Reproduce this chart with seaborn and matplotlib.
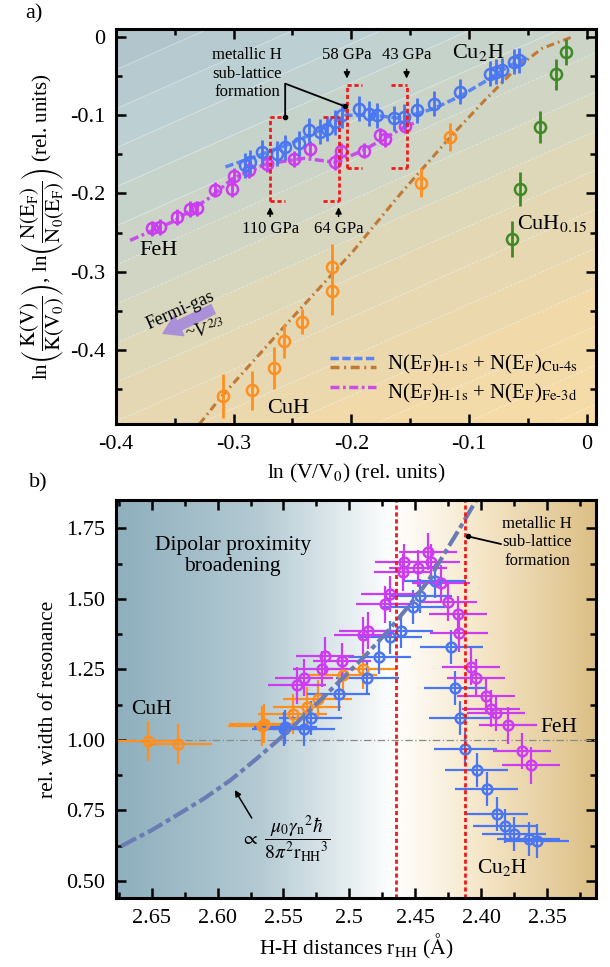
import numpy as np
import matplotlib
matplotlib.use('Agg')
import matplotlib.pyplot as plt
import seaborn as sns
from matplotlib.colors import LinearSegmentedColormap
from matplotlib.legend_handler import HandlerBase
from matplotlib.lines import Line2D
from matplotlib.ticker import MultipleLocator, FixedLocator, FuncFormatter

# ---------------- panel a) data : ln K vs ln V ----------------
feh_x = [-0.3696, -0.3626, -0.3484, -0.337, -0.3313, -0.3157, -0.3015, -0.300, -0.287,
         -0.2717, -0.249, -0.2349, -0.2136, -0.209, -0.1895, -0.1753, -0.171, -0.154]
feh_y = [-0.2446, -0.243, -0.230, -0.2197, -0.219, -0.195, -0.194, -0.178, -0.170,
         -0.162, -0.1556, -0.1427, -0.160, -0.146, -0.145, -0.1256, -0.130, -0.113]
feh_err = 0.010

cu2h_x = [-0.2902, -0.286, -0.276, -0.2632, -0.2562, -0.2448, -0.2363, -0.2264, -0.2207,
          -0.2136, -0.208, -0.1938, -0.1853, -0.178, -0.164, -0.1555, -0.144, -0.130,
          -0.1072, -0.0817, -0.0774, -0.0717, -0.0618, -0.0576]
cu2h_y = [-0.164, -0.160, -0.147, -0.149, -0.1406, -0.136, -0.119, -0.121, -0.117,
          -0.1086, -0.100, -0.0914, -0.098, -0.100, -0.104, -0.102, -0.0936, -0.085,
          -0.070, -0.0466, -0.0444, -0.0423, -0.0316, -0.0295]
cu2h_err = 0.016

cuh_x = [-0.309, -0.284, -0.266, -0.257, -0.242, -0.216, -0.216, -0.1407, -0.1163]
cuh_y = [-0.459, -0.452, -0.4235, -0.389, -0.364, -0.325, -0.2945, -0.186, -0.128]
cuh_err = [0.028, 0.025, 0.027, 0.022, 0.016, 0.030, 0.030, 0.018, 0.018]

cuh015_x = [-0.0638, -0.0562, -0.0398, -0.0258, -0.0173]
cuh015_y = [-0.258, -0.194, -0.115, -0.0474, -0.0188]
cuh015_err = [0.023, 0.022, 0.020, 0.020, 0.017]

# DOS based curves
fit_cu2h_x = [-0.307, -0.28, -0.25, -0.225, -0.205, -0.18, -0.158, -0.13, -0.107, -0.0845, -0.065, -0.05]
fit_cu2h_y = [-0.166, -0.152, -0.135, -0.118, -0.100, -0.100, -0.104, -0.0915, -0.075, -0.055, -0.036, -0.026]

fit_cuh_x = [-0.329, -0.311, -0.255, -0.198, -0.158, -0.116, -0.088, -0.060, -0.038, -0.013]
fit_cuh_y = [-0.495, -0.461, -0.367, -0.273, -0.200, -0.128, -0.083, -0.040, -0.0145, 0.0]

fit_feh_x = [-0.388, -0.35, -0.32, -0.30, -0.272, -0.24, -0.2136, -0.19, -0.155, -0.147]
fit_feh_y = [-0.260, -0.235, -0.205, -0.180, -0.162, -0.155, -0.160, -0.145, -0.115, -0.110]

# pressure windows (x0, x1, y0, y1)
box_a = [-0.269, -0.2108, -0.209, -0.102]
box_b = [-0.2037, -0.153, -0.168, -0.0615]
press_low = ['110 GPa', '64 GPa']
press_high = ['58 GPa', '43 GPa']

# ---------------- panel b) data : line width vs r_HH ----------------
b_cuh_x = [2.6525, 2.630, 2.566, 2.565, 2.543, 2.532, 2.524, 2.505, 2.490]
b_cuh_y = [0.997, 0.985, 1.050, 1.058, 1.091, 1.118, 1.144, 1.230, 1.250]

b_cu2h_x = [2.5496, 2.5485, 2.5346, 2.5295, 2.5082, 2.4864, 2.4773, 2.4693, 2.4605, 2.4517,
            2.4461, 2.4354, 2.4228, 2.4196, 2.4158, 2.412, 2.4035, 2.396, 2.3883, 2.382,
            2.3752, 2.364, 2.3576]
b_cu2h_y = [1.038, 1.045, 1.038, 1.079, 1.164, 1.221, 1.294, 1.363, 1.387, 1.470,
            1.511, 1.564, 1.330, 1.184, 1.077, 0.967, 0.894, 0.825, 0.737, 0.695,
            0.666, 0.648, 0.642]

b_feh_x = [2.5395, 2.5346, 2.5206, 2.5182, 2.5057, 2.4894, 2.4856, 2.473, 2.4693, 2.4597,
           2.4587, 2.448, 2.4404, 2.4379, 2.4304, 2.4254, 2.418, 2.4167, 2.4077, 2.404,
           2.3964, 2.3926, 2.3889, 2.380, 2.369, 2.362]
b_feh_y = [1.194, 1.221, 1.251, 1.298, 1.280, 1.371, 1.387, 1.481, 1.517, 1.594,
           1.629, 1.608, 1.667, 1.629, 1.555, 1.487, 1.446, 1.378, 1.260, 1.221,
           1.156, 1.111, 1.095, 1.052, 0.961, 0.910]

# dipolar broadening ~ r^-3
dip_x = [2.673, 2.65, 2.63, 2.61, 2.59, 2.57, 2.549, 2.52, 2.488, 2.47, 2.454, 2.44, 2.429, 2.415, 2.404]
dip_y = [0.624, 0.680, 0.736, 0.793, 0.858, 0.935, 1.020, 1.150, 1.298, 1.390, 1.480, 1.565, 1.652, 1.760, 1.848]

transition_r = [2.465, 2.412]

# colours
c_blue = '#4a76f2'
c_mag = '#cc3cf0'
c_orange = '#ff8f1f'
c_green = '#3f8a26'
c_brown = '#c07a35'
c_red = '#f01a1a'

sns.set_theme(style='ticks')
plt.rcParams['font.family'] = ['Liberation Serif', 'DejaVu Serif']
plt.rcParams['mathtext.fontset'] = 'stix'
plt.rcParams['axes.unicode_minus'] = False
plt.rcParams['text.color'] = 'black'
plt.rcParams['axes.labelcolor'] = 'black'
plt.rcParams['xtick.color'] = 'black'
plt.rcParams['ytick.color'] = 'black'

fig = plt.figure(figsize=(6.1, 9.67), dpi=100)
ax1 = fig.add_axes([116 / 610, 1 - 424 / 967, 480 / 610, 395 / 967])
ax2 = fig.add_axes([116 / 610, 1 - 898 / 967, 480 / 610, 398 / 967])

# ---------- panel a ----------
xa0, xa1 = -0.4, 0.008
ya0, ya1 = -0.495, 0.0105
gx, gy = np.meshgrid(np.linspace(xa0, xa1, 300), np.linspace(ya0, ya1, 300))
gz = gy - 2 / 3 * gx
band_cmap = LinearSegmentedColormap.from_list(
    'bands', ['#f8dca5', '#f1d9aa', '#e2d7b5', '#cdd5c6', '#bccfd3', '#aabdc8'])
lev = np.arange(-0.525, 0.33, 0.05)
ax1.contourf(gx, gy, gz, levels=lev, cmap=band_cmap, zorder=0)
ax1.contour(gx, gy, gz, levels=lev, colors='white', linewidths=0.6, alpha=0.45, zorder=0)

sns.lineplot(x=fit_cuh_x, y=fit_cuh_y, sort=False, estimator=None, ax=ax1, color=c_brown,
             lw=2.2, linestyle=(0, (2.6, 1.3, 0.6, 1.3)), legend=False, zorder=2)
sns.lineplot(x=fit_cu2h_x, y=fit_cu2h_y, sort=False, estimator=None, ax=ax1, color='#5b86f2',
             lw=2.5, linestyle=(0, (2.4, 1.0)), legend=False, zorder=2)
sns.lineplot(x=fit_feh_x, y=fit_feh_y, sort=False, estimator=None, ax=ax1, color='#c64fe8',
             lw=2.5, linestyle=(0, (2.6, 1.0, 0.8, 1.0)), legend=False, zorder=2)

ax1.errorbar(cuh_x, cuh_y, yerr=cuh_err, fmt='o', ms=8, mfc='none', mec=c_orange, mew=1.8,
             ecolor=c_orange, elinewidth=2, capsize=0, zorder=3)
ax1.errorbar(cuh015_x, cuh015_y, yerr=cuh015_err, fmt='o', ms=8, mfc='none', mec=c_green, mew=1.8,
             ecolor=c_green, elinewidth=2, capsize=0, zorder=3)
ax1.errorbar(feh_x, feh_y, yerr=feh_err, fmt='o', ms=8, mfc='none', mec=c_mag, mew=1.8,
             ecolor=c_mag, elinewidth=2, capsize=0, zorder=3)
ax1.errorbar(cu2h_x, cu2h_y, yerr=cu2h_err, fmt='o', ms=8, mfc='none', mec=c_blue, mew=1.8,
             ecolor=c_blue, elinewidth=2, capsize=0, zorder=4)

# red dashed pressure windows: full vertical sides, short stubs on top/bottom
for bx in [box_a, box_b]:
    x0, x1, y0, y1 = bx
    stub = 0.013
    for xs in [x0, x1]:
        ax1.plot([xs, xs], [y0, y1], color=c_red, lw=2, ls=(0, (1.5, 1)), zorder=5)
    for yy in [y0, y1]:
        ax1.plot([x0, x0 + stub], [yy, yy], color=c_red, lw=2, ls=(0, (1.5, 1)), zorder=5)
        ax1.plot([x1 - stub, x1], [yy, yy], color=c_red, lw=2, ls=(0, (1.5, 1)), zorder=5)

arr = dict(arrowstyle='-|>', color='black', lw=1.1, mutation_scale=9)
for lab, xs in zip(press_low, [box_a[0], box_a[1]]):
    ax1.annotate('', xy=(xs, box_a[2] - 0.005), xytext=(xs, box_a[2] - 0.024), arrowprops=arr)
    ax1.text(xs, -0.245, lab, ha='center', va='center', fontsize=12)
for lab, xs in zip(press_high, [box_b[0], box_b[1]]):
    ax1.annotate('', xy=(xs, box_b[3] + 0.005), xytext=(xs, box_b[3] + 0.024), arrowprops=arr)
    ax1.text(xs, -0.023, lab, ha='center', va='center', fontsize=12)

ax1.text(-0.2888, -0.0466, 'metallic H\nsub-lattice\nformation', ha='center', va='center',
         fontsize=12, linespacing=1.2)
ax1.plot([-0.2562, -0.2562, -0.2055], [-0.102, -0.0594, -0.0885], color='black', lw=1.3, zorder=6)
ax1.plot([-0.2562, -0.2055], [-0.102, -0.0885], 'o', color='black', ms=3, zorder=6)

ax1.text(-0.364, -0.273, 'FeH', ha='center', va='center', fontsize=16)
ax1.text(-0.0917, -0.019, 'Cu$_2$H', ha='center', va='center', fontsize=16)
ax1.text(-0.0294, -0.239, 'CuH$_{0.15}$', ha='center', va='center', fontsize=16)
ax1.text(-0.254, -0.475, 'CuH', ha='center', va='center', fontsize=16)

ax1.annotate('', xy=(-0.360, -0.379), xytext=(-0.3175, -0.348),
             arrowprops=dict(arrowstyle='simple,head_length=0.8,head_width=1.0,tail_width=0.45',
                             color='#a990d8', mutation_scale=16, shrinkA=0, shrinkB=0))
ax1.text(-0.345, -0.349, 'Fermi-gas', rotation=24, ha='center', va='center', fontsize=13)
ax1.text(-0.325, -0.374, '~V$^{2/3}$', rotation=8, ha='center', va='center', fontsize=13)


class StackedLines(HandlerBase):
    def create_artists(self, legend, orig_handle, xdescent, ydescent, width, height, fontsize, trans):
        out = []
        for i, h in enumerate(orig_handle):
            yy = height * (0.8 - 0.6 * i) - ydescent
            ln = Line2D([0, 1], [0, 1])
            ln.update_from(h)
            ln.set_data([-xdescent, width - xdescent], [yy, yy])
            ln.set_transform(trans)
            out.append(ln)
        return out


h_blue = Line2D([], [], color='#5b86f2', lw=2.5, ls=(0, (2.4, 1.0)))
h_brown = Line2D([], [], color=c_brown, lw=2.5, ls=(0, (2.6, 1.3, 0.6, 1.3)))
h_mag = Line2D([], [], color='#c64fe8', lw=2.5, ls=(0, (2.6, 1.0, 0.8, 1.0)))
lab1 = 'N(E$_{\\mathrm{F}}$)$_{\\mathrm{H\u20101s}}$ + N(E$_{\\mathrm{F}}$)$_{\\mathrm{Cu\u20104s}}$'
lab2 = 'N(E$_{\\mathrm{F}}$)$_{\\mathrm{H\u20101s}}$ + N(E$_{\\mathrm{F}}$)$_{\\mathrm{Fe\u20103d}}$'
ax1.legend([(h_blue, h_brown), (h_mag,)], [lab1, lab2], handler_map={tuple: StackedLines()},
           loc='lower right', bbox_to_anchor=(1.0, 0.0), frameon=False, fontsize=15,
           handlelength=2.2, handletextpad=0.5, labelspacing=0.3, borderaxespad=0.5)

ax1.set_xlim(xa0, xa1)
ax1.set_ylim(ya0, ya1)
ax1.xaxis.set_major_locator(MultipleLocator(0.1))
ax1.xaxis.set_minor_locator(MultipleLocator(0.05))
ax1.yaxis.set_major_locator(MultipleLocator(0.1))
ax1.yaxis.set_minor_locator(MultipleLocator(0.05))
fmt = FuncFormatter(lambda v, p: '0' if abs(v) < 1e-9 else f'{v:.1f}')
ax1.xaxis.set_major_formatter(fmt)
ax1.yaxis.set_major_formatter(fmt)
ax1.set_xlabel('ln (V/V$_0$) (rel. units)', fontsize=15.5, labelpad=6)
ax1.set_ylabel(r'ln$\left(\dfrac{\mathrm{K(V)}}{\mathrm{K(V_0)}}\right)$, ln$\left(\dfrac{\mathrm{N(E_F)}}{\mathrm{N_0(E_F)}}\right)$ (rel. units)',
               fontsize=15, labelpad=2)

# ---------- panel b ----------
xb0, xb1 = 2.677, 2.313
yb0, yb1 = 0.44, 1.85
grad_cmap = LinearSegmentedColormap.from_list(
    'grad', [(0.0, '#8eafbd'), (0.3, '#b4cad3'), (0.58, '#ffffff'), (0.75, '#f6e8cb'), (1.0, '#dcbf86')])
ax2.imshow(np.linspace(0, 1, 256)[None, :], extent=(xb0, xb1, yb0, yb1), aspect='auto',
           cmap=grad_cmap, zorder=0)

ax2.axhline(1.0, color='#8a8a8a', lw=0.9, ls=(0, (6, 2, 1, 2)), zorder=1)
for r in transition_r:
    ax2.axvline(r, color=c_red, lw=2, ls=(0, (1.5, 1)), zorder=6)

ax2.errorbar(b_cuh_x, b_cuh_y, xerr=0.026, yerr=0.07, fmt='o', ms=7, mfc='none', mec=c_orange,
             mew=1.8, ecolor=c_orange, elinewidth=1.6, capsize=0, zorder=3)
ax2.errorbar(b_cu2h_x, b_cu2h_y, xerr=0.024, yerr=0.06, fmt='o', ms=7, mfc='none', mec=c_blue,
             mew=1.8, ecolor=c_blue, elinewidth=1.6, capsize=0, zorder=3)
ax2.errorbar(b_feh_x, b_feh_y, xerr=0.022, yerr=0.065, fmt='o', ms=7, mfc='none', mec=c_mag,
             mew=1.8, ecolor=c_mag, elinewidth=1.6, capsize=0, zorder=3)

sns.lineplot(x=dip_x, y=dip_y, sort=False, estimator=None, ax=ax2, color='#6a7cb4', lw=3,
             linestyle=(0, (4, 1, 1.2, 1)), legend=False, zorder=5)

ax2.text(2.5885, 1.652, 'Dipolar proximity\nbroadening', ha='center', va='center', fontsize=15.5,
         linespacing=1.15)
ax2.text(2.65, 1.109, 'CuH', ha='center', va='center', fontsize=15.5)
ax2.text(2.341, 1.044, 'FeH', ha='center', va='center', fontsize=15.5)
ax2.text(2.384, 0.547, 'Cu$_2$H', ha='center', va='center', fontsize=15.5)
ax2.text(2.3576, 1.70, 'metallic H\nsub-lattice\nformation', ha='center', va='center',
         fontsize=12, linespacing=1.2)
ax2.plot([2.385, 2.410], [1.694, 1.721], color='black', lw=1.3, zorder=7)
ax2.plot([2.410], [1.721], 'o', color='black', ms=3, zorder=7)
ax2.annotate('', xy=(2.588, 0.831), xytext=(2.573, 0.715),
             arrowprops=dict(arrowstyle='-|>', color='black', lw=1.1, mutation_scale=9))
ax2.text(2.548, 0.648, r'$\propto\ \dfrac{\mu_0\gamma_\mathrm{n}{}^2\hbar}{8\pi^2\mathrm{r_{HH}}{}^3}$',
         ha='center', va='center', fontsize=14)

ax2.set_xlim(xb0, xb1)
ax2.set_ylim(yb0, yb1)
ax2.xaxis.set_major_locator(FixedLocator([2.65, 2.60, 2.55, 2.50, 2.45, 2.40, 2.35]))
ax2.set_xticklabels(['2.65', '2.60', '2.55', '2.5', '2.45', '2.40', '2.35'])
ax2.xaxis.set_minor_locator(MultipleLocator(0.025))
ax2.yaxis.set_major_locator(MultipleLocator(0.25))
ax2.yaxis.set_minor_locator(MultipleLocator(0.125))
ax2.yaxis.set_major_formatter(FuncFormatter(lambda v, p: f'{v:.2f}'))
ax2.set_xlabel(r'H-H distances r$_{\mathrm{HH}}$ ($\mathrm{\AA}$)', fontsize=15.5, labelpad=3)
ax2.set_ylabel('rel. width of resonance', fontsize=15.5, labelpad=6)

for ax in [ax1, ax2]:
    for s in ax.spines.values():
        s.set_linewidth(2.2)
        s.set_color('black')
        s.set_zorder(10)
    ax.tick_params(which='both', direction='in', top=True, right=True, width=1.8,
                   labelsize=16, pad=8)
    ax.tick_params(which='major', length=7)
    ax.tick_params(which='minor', length=4)

fig.text(25 / 610, 1 - 14 / 967, 'a)', fontsize=16, va='center')
fig.text(29 / 610, 1 - 483 / 967, 'b)', fontsize=16, va='center')

fig.savefig('out.png', dpi=100)
